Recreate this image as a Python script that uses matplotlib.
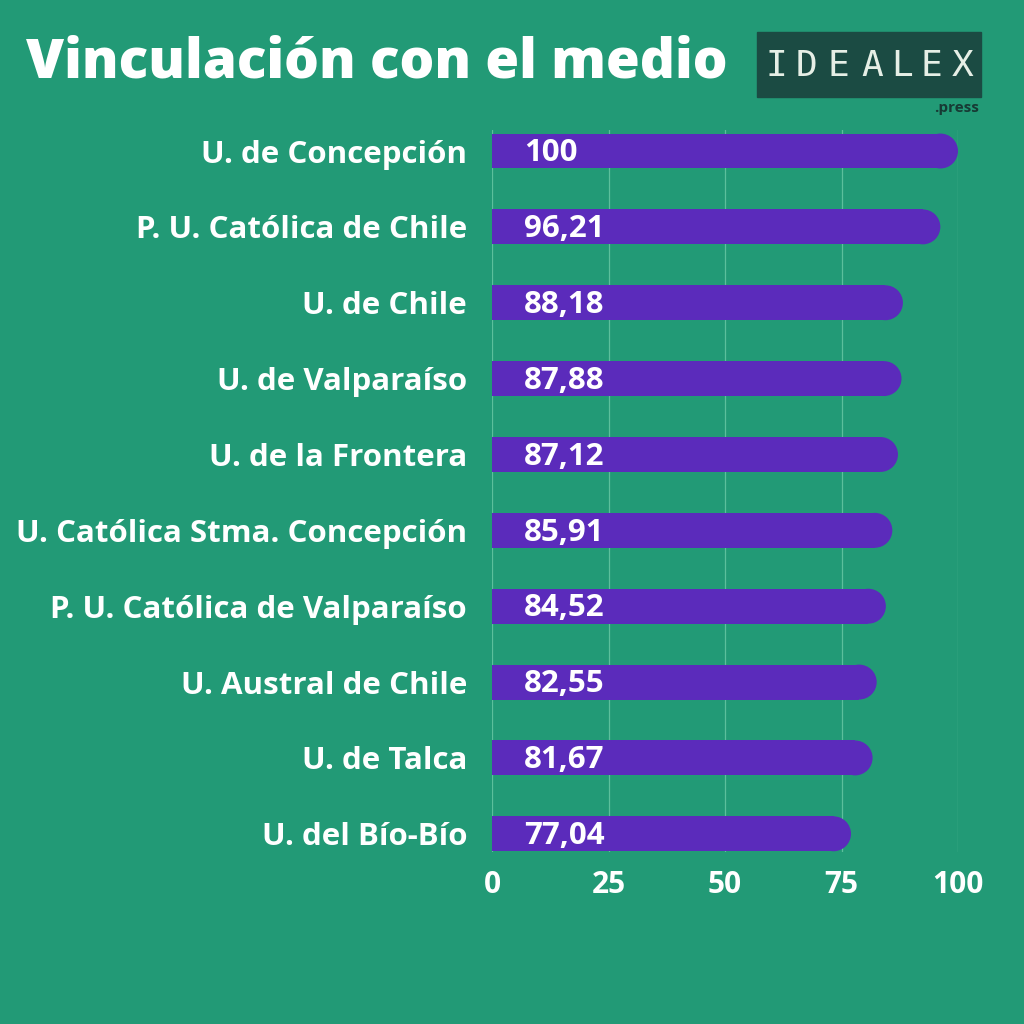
import matplotlib.pyplot as plt
from matplotlib.patches import Ellipse, Rectangle

universidades = [
    "U. de Concepción",
    "P. U. Católica de Chile",
    "U. de Chile",
    "U. de Valparaíso",
    "U. de la Frontera",
    "U. Católica Stma. Concepción",
    "P. U. Católica de Valparaíso",
    "U. Austral de Chile",
    "U. de Talca",
    "U. del Bío-Bío",
]
puntajes = [100, 96.21, 88.18, 87.88, 87.12, 85.91, 84.52, 82.55, 81.67, 77.04]
ticks = [0, 25, 50, 75, 100]

bg = "#229a76"
bar_color = "#5b2bbb"
W = 1024

plt.rcParams['font.family'] = ['Open Sans', 'DejaVu Sans']

fig = plt.figure(figsize=(10.24, 10.24), dpi=100, facecolor=bg)


def fx(px):
    return px / W


def fy(py):
    return 1 - py / W


# axes placed in pixels: x 0..100 -> 492..958, y -> 130..852
ax = fig.add_axes([fx(492), fy(852), fx(958 - 492), fx(852 - 130)])
ax.set_facecolor(bg)
ax.set_xlim(0, 100)
ax.set_ylim(9.24, -0.277)

h = 0.46
# radius of the round end, in x data units (bar height 35 px, 4.66 px per unit)
rx = (35 / 2) / 4.66

for i, v in enumerate(puntajes):
    ax.barh(i, v - rx, height=h, color=bar_color, zorder=3)
    ax.add_patch(Ellipse((v - rx, i), 2 * rx, h, color=bar_color, zorder=3, lw=0))
    ax.text(6.8, i + 0.03, f"{v:g}".replace(".", ","), color="white", fontsize=22.5,
            fontweight="bold", va="center", ha="left", zorder=4)

for t in ticks:
    ax.axvline(t, color="#5cbf9c", lw=0.9, zorder=1)

ax.set_yticks(range(len(universidades)))
ax.set_yticklabels(universidades, fontsize=22.5, fontweight="bold", color="white")
ax.set_xticks(ticks)
ax.set_xticklabels([str(t) for t in ticks], fontsize=21.5, fontweight="bold", color="white")
ax.tick_params(axis="y", length=0, pad=18)
ax.tick_params(axis="x", length=0, pad=13)
for s in ax.spines.values():
    s.set_visible(False)

# title
fig.text(fx(26), fy(63), "Vinculación con el medio", fontsize=39.5, fontweight="heavy",
         color="white", ha="left", va="center")

# logo box
fig.patches.append(Rectangle((fx(757), fy(97)), fx(981 - 757), fx(97 - 32),
                             transform=fig.transFigure, color="#1b4b43", zorder=1))
for ch, xc in zip("IDEALEX", [776, 807, 838, 872, 902, 931, 963]):
    fig.text(fx(xc), fy(66), ch, fontsize=26, color="#e6efe6", family="DejaVu Sans Mono",
             ha="center", va="center")
fig.text(fx(979), fy(108), ".press", fontsize=11, fontweight="bold", color="#173a34",
         ha="right", va="center")

fig.savefig("out.png", dpi=100, facecolor=bg)
